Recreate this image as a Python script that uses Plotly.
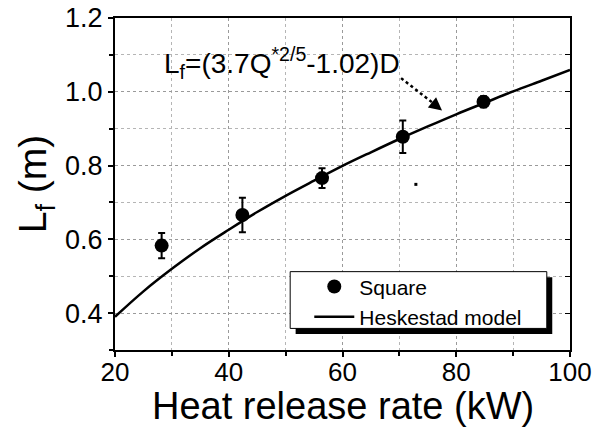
import plotly.graph_objects as go

# Measured data (Square burner)
hrr = [28.2, 42.4, 56.4, 70.6, 84.8]
lf = [0.583, 0.666, 0.766, 0.878, 0.973]
lf_err = [0.034, 0.047, 0.027, 0.044, 0.015]

# Heskestad model curve
model_q = [20, 25, 30, 35, 40, 45, 50, 55, 60, 65, 70, 75, 80, 85, 90, 95, 100]
model_lf = [0.390, 0.459, 0.520, 0.576, 0.626, 0.674, 0.718, 0.759, 0.799,
            0.836, 0.872, 0.906, 0.939, 0.970, 1.001, 1.030, 1.059]

# stray dot in the plot
stray_x = [72.9]
stray_y = [0.749]

# arrow of the annotation (data coordinates)
arrow_start = (70.3, 1.037)
arrow_end = (77.5, 0.949)

FONT = "Liberation Sans, Arial, sans-serif"

fig = go.Figure()
fig.add_trace(go.Scatter(
    x=hrr, y=lf, mode="markers", name="Square",
    marker=dict(symbol="circle", size=14, color="black"),
    error_y=dict(type="data", array=lf_err, visible=True, color="black",
                 thickness=2, width=3.5),
))
fig.add_trace(go.Scatter(
    x=model_q, y=model_lf, mode="lines", name="Heskestad model",
    line=dict(color="black", width=2.5, shape="spline"),
))
fig.add_trace(go.Scatter(
    x=stray_x, y=stray_y, mode="markers", showlegend=False,
    marker=dict(symbol="square", size=3, color="black"), hoverinfo="skip",
))
# dummy trace on right axis to force its ticks
fig.add_trace(go.Scatter(x=[None], y=[None], yaxis="y2", showlegend=False,
                         hoverinfo="skip"))

# legend box with drop shadow
fig.add_shape(type="rect", xref="paper", yref="paper",
              x0=0.397, x1=0.961, y0=0.048, y1=0.219,
              fillcolor="black", line=dict(width=0), layer="above")
fig.add_shape(type="rect", xref="paper", yref="paper",
              x0=0.385, x1=0.949, y0=0.065, y1=0.236,
              fillcolor="white", line=dict(color="black", width=1), layer="above")

# dotted arrow
fig.add_shape(type="line", xref="x", yref="y",
              x0=arrow_start[0], y0=arrow_start[1],
              x1=arrow_end[0] - 1.3, y1=arrow_end[1] + 0.017,
              line=dict(color="black", width=2.5, dash="dot"))
fig.add_annotation(x=arrow_end[0], y=arrow_end[1], xref="x", yref="y",
                   text="", showarrow=True, arrowhead=2, arrowsize=1.3,
                   arrowwidth=2, arrowcolor="black", ax=-11, ay=-9)

fig.add_annotation(x=28.3, y=1.078, xref="x", yref="y",
                   text="L<sub>f</sub>=(3.7Q<sup>*2/5</sup>-1.02)D",
                   showarrow=False, xanchor="left", yanchor="middle",
                   font=dict(family=FONT, size=28, color="black"))

# x axis title (placed as annotation for exact position)
fig.add_annotation(x=0.5, y=-0.168, xref="paper", yref="paper",
                   text="Heat release rate (kW)", showarrow=False,
                   xanchor="center", yanchor="middle",
                   font=dict(family=FONT, size=38, color="black"))

axis_common = dict(
    showline=True, linecolor="black", linewidth=2, mirror=True,
    ticks="outside", tickcolor="black", tickwidth=1.5, ticklen=5,
    showgrid=True, gridcolor="#9a9a9a", griddash="dot", gridwidth=1,
    zeroline=False, automargin=False,
)

fig.update_layout(
    width=596, height=430,
    margin=dict(l=115, r=26, t=18, b=80),
    paper_bgcolor="white", plot_bgcolor="white",
    font=dict(family=FONT, color="black"),
    showlegend=True,
    legend=dict(x=0.427, y=0.252, xanchor="left", yanchor="top",
                bgcolor="rgba(0,0,0,0)", borderwidth=0,
                font=dict(family=FONT, size=21, color="black"),
                tracegroupgap=0, itemwidth=40),
    xaxis=dict(
        range=[20, 100], tick0=20, dtick=20,
        tickfont=dict(size=26), ticklabelstandoff=-7,
        minor=dict(dtick=10, ticks="outside", ticklen=4, tickcolor="black",
                   showgrid=True, gridcolor="#b5b5b5", griddash="dot"),
        **axis_common,
    ),
    yaxis=dict(
        range=[0.3, 1.2], tick0=0.4, dtick=0.2, tickformat=".1f",
        tickfont=dict(size=27),
        title=dict(text="L<sub>f</sub> (m)", font=dict(size=39), standoff=6),
        minor=dict(dtick=0.1, ticks="outside", ticklen=4, tickcolor="black",
                   showgrid=True, gridcolor="#b5b5b5", griddash="dot"),
        **axis_common,
    ),
    yaxis2=dict(
        overlaying="y", side="right", range=[0.3, 1.2], dtick=0.1,
        ticks="inside", ticklen=5, tickcolor="black", showticklabels=False,
        showgrid=False, showline=False, zeroline=False,
    ),
)

fig.write_html("out.html")
